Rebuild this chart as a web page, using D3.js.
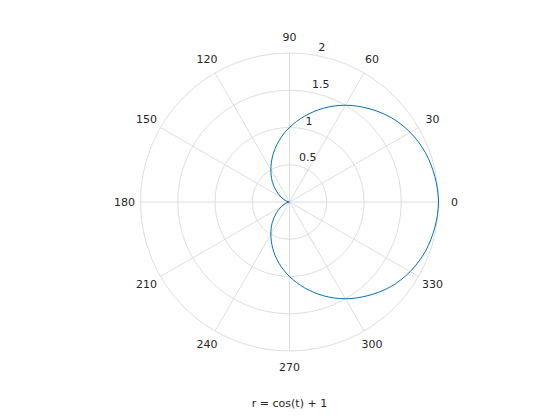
<!DOCTYPE html>
<html><head><meta charset="utf-8">
<script src="https://cdn.jsdelivr.net/npm/d3@7/dist/d3.min.js"></script>
<style>body{margin:0;background:#fff}svg{display:block}text{font-family:"DejaVu Sans",sans-serif;fill:#262626}</style>
</head><body>
<script>
const thetaDeg = [0,10,20,30,40,50,60,70,80,90,100,110,120,130,140,150,160,170,180,190,200,210,220,230,240,250,260,270,280,290,300,310,320,330,340,350];
const rValues = [2.00,1.98,1.94,1.87,1.77,1.64,1.50,1.34,1.17,1.00,0.83,0.66,0.50,0.36,0.23,0.13,0.06,0.02,0.00,0.02,0.06,0.13,0.23,0.36,0.50,0.66,0.83,1.00,1.17,1.34,1.50,1.64,1.77,1.87,1.94,1.98];
const angleTicks = [0,30,60,90,120,150,180,210,240,270,300,330];
const rTicks = [0.5,1,1.5,2];
const titleText = "r = cos(t) + 1";

const W=560,H=420,cx=289.5,cy=202,R=149;
const svg=d3.select("body").append("svg").attr("width",W).attr("height",H);
const r=d3.scaleLinear().domain([0,2]).range([0,R]);
const toRad=d=>Math.PI/2 - d*Math.PI/180; // d3 radial angle
const g=svg.append("g").attr("transform",`translate(${cx},${cy})`);
const gridColor="#dedede";

g.selectAll("line.spoke").data(angleTicks).join("line").attr("class","spoke")
 .attr("x1",0).attr("y1",0)
 .attr("x2",d=>r(2)*Math.cos(d*Math.PI/180)).attr("y2",d=>-r(2)*Math.sin(d*Math.PI/180))
 .attr("stroke",gridColor).attr("stroke-width",1);
g.selectAll("circle.grid").data(rTicks).join("circle").attr("class","grid")
 .attr("r",d=>r(d)).attr("fill","none").attr("stroke",gridColor).attr("stroke-width",1);

g.selectAll("text.ang").data(angleTicks).join("text").attr("class","ang")
 .attr("x",d=>(R+16)*Math.cos(d*Math.PI/180)).attr("y",d=>-(R+16)*Math.sin(d*Math.PI/180))
 .attr("text-anchor","middle").attr("dominant-baseline","central").attr("font-size",11).text(d=>d);

const rAng=80*Math.PI/180;
g.selectAll("text.rt").data(rTicks).join("text").attr("class","rt")
 .attr("x",d=>r(d)*Math.cos(rAng)+3).attr("y",d=>-r(d)*Math.sin(rAng)-4)
 .attr("font-size",11).text(d=>d);

const data=thetaDeg.map((t,i)=>({t,r:rValues[i]}));
const line=d3.lineRadial().angle(d=>toRad(d.t)).radius(d=>r(d.r)).curve(d3.curveCatmullRomClosed);
g.append("path").datum(data).attr("d",line).attr("fill","none").attr("stroke","#0072BD").attr("stroke-width",1);

svg.append("text").attr("x",cx).attr("y",403).attr("text-anchor","middle").attr("dominant-baseline","central").attr("font-size",11).text(titleText);
</script>
</body></html>
